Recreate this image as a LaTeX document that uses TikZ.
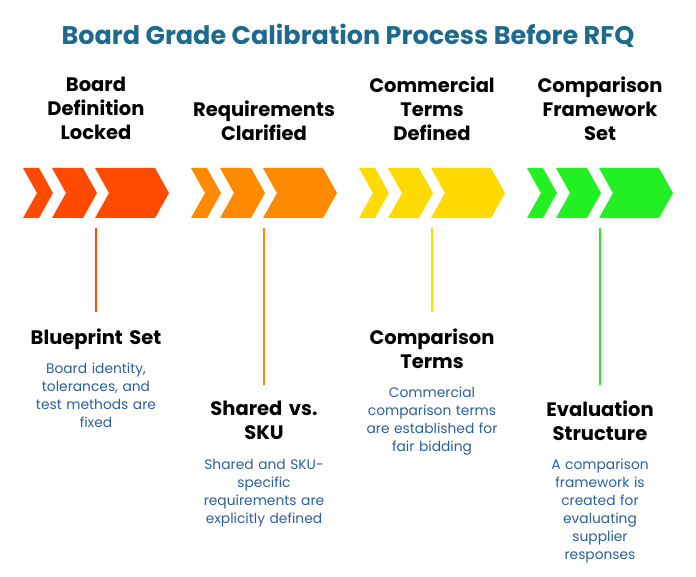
\documentclass[tikz,border=0pt]{standalone}
\usepackage{fontspec}
\setmainfont{Poppins}
\begin{document}
\begin{tikzpicture}[x=1pt,y=-1pt,
 head/.style={font=\fontsize{19.5}{24}\selectfont\bfseries,text=black,align=center,text width=170,inner sep=0},
 desc/.style={font=\fontsize{13.8}{18}\selectfont,text=descblue,align=center,text width=155,inner sep=0},
 stem/.style={line width=1.5}]
\definecolor{descblue}{HTML}{2B5F9E}
\definecolor{titleblue}{HTML}{1E6A8E}
\definecolor{cA}{HTML}{FF4A00}
\definecolor{cB}{HTML}{FF8A00}
\definecolor{cC}{HTML}{FFDA00}
\definecolor{cD}{HTML}{22F022}
\useasboundingbox (0,0) rectangle (696,577);
\node[font=\fontsize{25.5}{24}\selectfont\bfseries,text=titleblue] (title) at (348,36) {Board Grade Calibration Process Before RFQ};
\foreach \i/\c in {0/cA,1/cB,2/cC,3/cD}{
 \begin{scope}[xshift=\i*168]
 \fill[\c] (23,168)--(39,168)--(53,193)--(39,218)--(23,218)--(37,193)--cycle;
 \fill[\c] (52,168)--(83,168)--(97,193)--(83,218)--(52,218)--(66,193)--cycle;
 \fill[\c] (95,168)--(155,168)--(169,193)--(155,218)--(95,218)--(109,193)--cycle;
 \end{scope}}
\node[head,anchor=north] (h1) at (96,77) {Board\\Definition\\Locked};
\node[head,anchor=north] (h2) at (264,101) {Requirements\\Clarified};
\node[head,anchor=north] (h3) at (432,77) {Commercial\\Terms\\Defined};
\node[head,anchor=north] (h4) at (600,77) {Comparison\\Framework\\Set};
\coordinate (s1) at (96,228); \coordinate (e1) at (96,312);
\coordinate (s2) at (264,228); \coordinate (e2) at (264,385);
\coordinate (s3) at (432,228); \coordinate (e3) at (432,312);
\coordinate (s4) at (600,228); \coordinate (e4) at (600,385);
\draw[stem,cA] (s1)--(e1);
\draw[stem,cB] (s2)--(e2);
\draw[stem,cC] (s3)--(e3);
\draw[stem,cD] (s4)--(e4);
\node[head,anchor=north] (b1) at (96,329) {Blueprint Set};
\node[desc,anchor=north] (d1) at (96,363) {Board identity,\\tolerances, and\\test methods are\\fixed};
\node[head,anchor=north] (b2) at (264,401) {Shared vs.\\SKU};
\node[desc,anchor=north] (d2) at (264,459) {Shared and SKU-\\specific\\requirements are\\explicitly defined};
\node[head,anchor=north] (b3) at (432,329) {Comparison\\Terms};
\node[desc,anchor=north] (d3) at (432,387) {Commercial\\comparison terms\\are established for\\fair bidding};
\node[head,anchor=north] (b4) at (600,401) {Evaluation\\Structure};
\node[desc,anchor=north] (d4) at (600,459) {A comparison\\framework is\\created for\\evaluating\\supplier\\responses};
\end{tikzpicture}
\end{document}
